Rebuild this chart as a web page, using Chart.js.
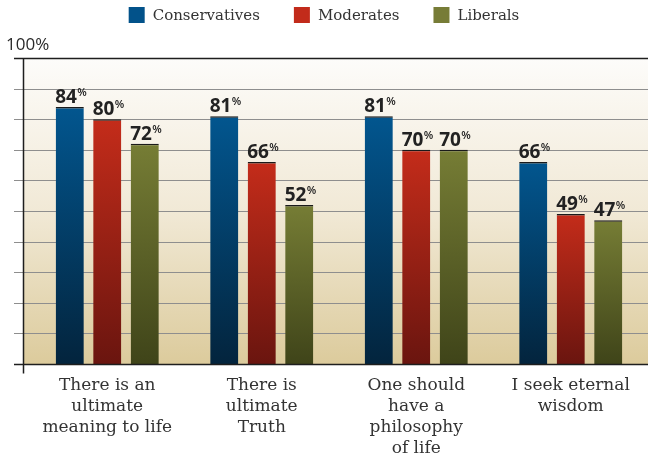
<!DOCTYPE html>
<html>
<head>
<meta charset="utf-8">
<script src="https://cdn.jsdelivr.net/npm/chart.js@4"></script>
<style>
  html, body { margin: 0; padding: 0; background: #fff; }
  #wrap { width: 648px; height: 453px; }
</style>
</head>
<body>
<div id="wrap"><canvas id="myChart"></canvas></div>
<script>
let categorias = [
    ['There is an', 'ultimate', 'meaning to life'],
    ['There is', 'ultimate', 'Truth'],
    ['One should', 'have a', 'philosophy', 'of life'],
    ['I seek eternal', 'wisdom']
];
let conservadores = [84, 81, 81, 66];
let moderados = [80, 66, 70, 49];
let liberais = [72, 52, 70, 47];
let grupos = ['Conservatives', 'Moderates', 'Liberals'];
let coresTopo = ['#02568f', '#c42c1a', '#767d35'];
let coresBase = ['#03243d', '#6a150f', '#3f4419'];
let coresLegenda = ['#02528a', '#c22b1b', '#777c37'];

let ctx = document.getElementById('myChart').getContext('2d');

// gradient per bar, lighter at the top
function gradiente(context, i) {
    let chart = context.chart;
    let area = chart.chartArea;
    if (!area || context.type !== 'data') return coresTopo[i];
    let y = chart.scales.y;
    let topo = y.getPixelForValue(context.raw);
    let base = y.getPixelForValue(0);
    let g = chart.ctx.createLinearGradient(0, topo, 0, base);
    g.addColorStop(0, coresTopo[i]);
    g.addColorStop(1, coresBase[i]);
    return g;
}

let fundo = {
    id: 'fundo',
    beforeDraw(chart) {
        let c = chart.ctx, a = chart.chartArea, y = chart.scales.y;
        c.save();
        let g = c.createLinearGradient(0, a.top, 0, a.bottom);
        g.addColorStop(0, '#fdfcfa');
        g.addColorStop(0.5, '#f1e9d6');
        g.addColorStop(1, '#dccb9c');
        c.fillStyle = g;
        c.fillRect(a.left - 7, a.top, a.right - a.left + 7, a.bottom - a.top);
        // grid lines
        for (let v = 10; v < 100; v += 10) {
            let py = Math.round(y.getPixelForValue(v)) + 0.5;
            c.strokeStyle = '#8e8e8e';
            c.lineWidth = 1;
            c.beginPath();
            c.moveTo(14, py);
            c.lineTo(a.right, py);
            c.stroke();
        }

        // legend
        c.font = '15px "DejaVu Serif"';
        c.textBaseline = 'middle';
        c.textAlign = 'left';
        let larguras = grupos.map(n => 24 + c.measureText(n).width);
        let total = larguras.reduce((s, w) => s + w, 0) + 34 * (grupos.length - 1);
        let x = (chart.width - total) / 2;
        grupos.forEach((nome, i) => {
            c.fillStyle = coresLegenda[i];
            c.fillRect(x, 7, 16, 16);
            c.fillStyle = '#333';
            c.fillText(nome, x + 24, 16);
            x += larguras[i] + 34;
        });
        c.restore();
    },
    afterDatasetsDraw(chart) {
        let c = chart.ctx, a = chart.chartArea, y = chart.scales.y;
        c.save();
        c.strokeStyle = '#1e1e1e';
        c.lineWidth = 1.5;
        let top = Math.round(y.getPixelForValue(100)) + 0.5;
        let bot = Math.round(y.getPixelForValue(0)) + 0.5;
        c.beginPath();
        c.moveTo(14, top); c.lineTo(a.right, top);
        c.moveTo(14, bot); c.lineTo(a.right, bot);
        c.moveTo(23.5, top); c.lineTo(23.5, bot + 9);
        c.stroke();
        c.fillStyle = '#2a2a2a';
        c.font = '17px "Open Sans"';
        c.textAlign = 'left';
        c.textBaseline = 'alphabetic';
        c.fillText('100%', 6, top - 9);

        // value labels with superscript %
        chart.data.datasets.forEach((ds, i) => {
            let meta = chart.getDatasetMeta(i);
            meta.data.forEach((bar, j) => {
                let txt = String(ds.data[j]);
                c.font = 'bold 19px "Open Sans"';
                let w1 = c.measureText(txt).width;
                c.font = '600 11px "Open Sans"';
                let w2 = c.measureText('%').width;
                let x0 = bar.x - (w1 + w2) / 2 + 1;
                let by = bar.y - 4;
                c.fillStyle = '#222';
                c.font = 'bold 19px "Open Sans"';
                c.fillText(txt, x0, by);
                c.font = '600 11px "Open Sans"';
                c.fillText('%', x0 + w1 + 0.5, by - 7);
            });
        });
        c.restore();
    }
};

let dados = [conservadores, moderados, liberais];

let myChart = new Chart(ctx, {
    type: 'bar',
    data: {
        labels: categorias,
        datasets: grupos.map((nome, i) => ({
            label: nome,
            data: dados[i],
            backgroundColor: (context) => gradiente(context, i),
            borderColor: '#1a1a1a',
            borderWidth: { top: 1.5, left: 0, right: 0, bottom: 0 },
            borderSkipped: 'bottom',
            categoryPercentage: 0.728,
            barPercentage: 0.75
        }))
    },
    plugins: [fundo],
    options: {
        responsive: true,
        maintainAspectRatio: false,
        animation: false,
        layout: { padding: { top: 58, right: 0, left: 0, bottom: 0 } },
        plugins: {
            legend: { display: false },
            tooltip: { enabled: false }
        },
        scales: {
            x: {
                grid: { display: false },
                border: { display: false },
                ticks: {
                    color: '#333',
                    padding: 3,
                    font: { family: '"DejaVu Serif"', size: 17, lineHeight: 1.24 },
                    maxRotation: 0
                },
                afterFit: (s) => { s.height = 89; }
            },
            y: {
                min: 0,
                max: 100,
                grid: { display: false },
                border: { display: false },
                ticks: { display: false, stepSize: 10 },
                afterFit: (s) => { s.width = 30; }
            }
        }
    }
});
</script>
</body>
</html>
